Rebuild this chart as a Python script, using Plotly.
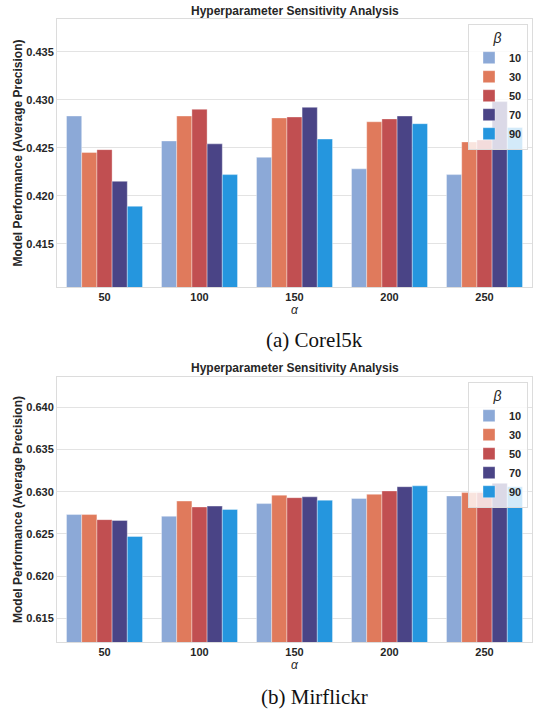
import plotly.graph_objects as go

alphas = ["50", "100", "150", "200", "250"]
betas = ["10", "30", "50", "70", "90"]
colors = ["#8CA9D7", "#E07A5C", "#C14F51", "#4A4486", "#2596DE"]

# Corel5k: values per beta, across alphas
corel_b10 = [0.4283, 0.4257, 0.4240, 0.4228, 0.4222]
corel_b30 = [0.4245, 0.4283, 0.4281, 0.4277, 0.4256]
corel_b50 = [0.4248, 0.4290, 0.4282, 0.4280, 0.4258]
corel_b70 = [0.4215, 0.4254, 0.4292, 0.4283, 0.4298]
corel_b90 = [0.4189, 0.4222, 0.4259, 0.4275, 0.4271]

# Mirflickr
mir_b10 = [0.6273, 0.6271, 0.6286, 0.6292, 0.6295]
mir_b30 = [0.6273, 0.6289, 0.6296, 0.6297, 0.6299]
mir_b50 = [0.6267, 0.6282, 0.6293, 0.6301, 0.6299]
mir_b70 = [0.6266, 0.6283, 0.6294, 0.6306, 0.6310]
mir_b90 = [0.6247, 0.6279, 0.6290, 0.6307, 0.6306]

corel = [corel_b10, corel_b30, corel_b50, corel_b70, corel_b90]
mir = [mir_b10, mir_b30, mir_b50, mir_b70, mir_b90]

yticks_corel = [0.415, 0.420, 0.425, 0.430, 0.435]
yticks_mir = [0.615, 0.620, 0.625, 0.630, 0.635, 0.640]

W, H = 534, 709
FONT = "Liberation Sans, Arial, sans-serif"

fig = go.Figure()
for i, b in enumerate(betas):
    fig.add_trace(go.Bar(x=alphas, y=corel[i], name=b, marker_color=colors[i],
                         marker_line_width=0.6, marker_line_color="rgba(255,255,255,0.6)",
                         xaxis="x", yaxis="y", legend="legend"))
for i, b in enumerate(betas):
    fig.add_trace(go.Bar(x=alphas, y=mir[i], name=b, marker_color=colors[i],
                         marker_line_width=0.6, marker_line_color="rgba(255,255,255,0.6)",
                         xaxis="x2", yaxis="y2", legend="legend2"))

xd = [57 / W, 532 / W]
top_dom = [1 - 287 / H, 1 - 19 / H]
bot_dom = [1 - 642 / H, 1 - 377 / H]

axis_common = dict(showline=True, mirror=True, linecolor="#dcdcdc", linewidth=1,
                   ticks="", tickfont=dict(family=FONT, size=11, color="#262626", weight="bold"))

legend_common = dict(x=528 / W, xanchor="right", yanchor="top",
                     bgcolor="rgba(255,255,255,0.8)", bordercolor="#dcdcdc", borderwidth=1,
                     font=dict(family=FONT, size=11, color="#262626", weight="bold"),
                     title=dict(text="<i>β</i>", side="top center",
                                font=dict(family=FONT, size=14, weight="normal")),
                     itemwidth=30, tracegroupgap=0)

fig.update_layout(
    width=W, height=H, margin=dict(l=0, r=0, t=0, b=0),
    paper_bgcolor="white", plot_bgcolor="white",
    barmode="group", bargap=0.2, bargroupgap=0,
    font=dict(family=FONT, color="#262626"),
    xaxis=dict(domain=xd, anchor="y", showgrid=False, **axis_common,
               title=dict(text="<i>α</i>", font=dict(family=FONT, size=12, color="#262626"), standoff=2)),
    yaxis=dict(domain=top_dom, anchor="x", range=[0.4105, 0.4384], tickvals=yticks_corel,
               tickformat=".3f", showgrid=True, gridcolor="#e3e3e3", gridwidth=1, zeroline=False,
               **axis_common,
               title=dict(text="<b>Model Performance (Average Precision)</b>",
                          font=dict(family=FONT, size=12, color="#262626"), standoff=1)),
    xaxis2=dict(domain=xd, anchor="y2", showgrid=False, **axis_common,
                title=dict(text="<i>α</i>", font=dict(family=FONT, size=12, color="#262626"), standoff=2)),
    yaxis2=dict(domain=bot_dom, anchor="x2", range=[0.6122, 0.6436], tickvals=yticks_mir,
                tickformat=".3f", showgrid=True, gridcolor="#e3e3e3", gridwidth=1, zeroline=False,
                **axis_common,
                title=dict(text="<b>Model Performance (Average Precision)</b>",
                           font=dict(family=FONT, size=12, color="#262626"), standoff=1)),
    legend=dict(y=1 - 24 / H, **legend_common),
    legend2=dict(y=1 - 382 / H, **legend_common),
)

title_font = dict(family=FONT, size=12, color="#262626", weight="bold")
fig.add_annotation(text="Hyperparameter Sensitivity Analysis", x=(xd[0] + xd[1]) / 2, y=1 - 11 / H,
                   xref="paper", yref="paper", showarrow=False, font=title_font, yanchor="middle")
fig.add_annotation(text="Hyperparameter Sensitivity Analysis", x=(xd[0] + xd[1]) / 2, y=1 - 368 / H,
                   xref="paper", yref="paper", showarrow=False, font=title_font, yanchor="middle")

cap_font = dict(family="Liberation Serif, Times New Roman, serif", size=21, color="#111111")
fig.add_annotation(text="(a) Corel5k", x=314 / W, y=1 - 340 / H, xref="paper", yref="paper",
                   showarrow=False, font=cap_font, yanchor="middle")
fig.add_annotation(text="(b) Mirflickr", x=314 / W, y=1 - 697 / H, xref="paper", yref="paper",
                   showarrow=False, font=cap_font, yanchor="middle")

fig.write_html("out.html", config={"displayModeBar": False},
               post_script="document.body.style.margin='0';document.body.style.overflow='hidden';")
